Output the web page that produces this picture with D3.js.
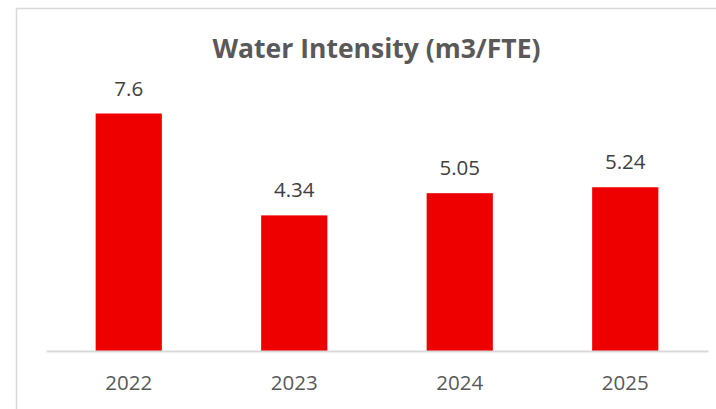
<!DOCTYPE html>
<html><head><meta charset="utf-8">
<script src="https://cdn.jsdelivr.net/npm/d3@7"></script>
<style>html,body{margin:0;padding:0;background:#fff;}svg{display:block;}</style>
</head><body>
<svg id="c" width="716" height="409"></svg>
<script>
const categories = ["2022","2023","2024","2025"];
const values = [7.6, 4.34, 5.05, 5.24];
const labels = ["7.6","4.34","5.05","5.24"];
const title = "Water Intensity (m3/FTE)";

const svg = d3.select("#c");
const plot = {left:46, right:708, top:101, bottom:351};

svg.append("rect").attr("x",16.5).attr("y",8.5).attr("width",720).attr("height",420)
  .attr("fill","#fff").attr("stroke","#d9d9d9").attr("stroke-width",1.5);

const x = d3.scaleBand().domain(categories).range([plot.left, plot.right]).paddingInner(0.6).paddingOuter(0.3);
const y = d3.scaleLinear().domain([0, 8]).range([plot.bottom, plot.top]);

svg.append("g").selectAll("rect").data(values).join("rect")
  .attr("x",(d,i)=>x(categories[i])).attr("width",x.bandwidth())
  .attr("y",d=>y(d)).attr("height",d=>y(0)-y(d)).attr("fill","#EE0000");

const ax = svg.append("g").attr("transform",`translate(0,${plot.bottom})`)
  .call(d3.axisBottom(x).tickSize(0).tickPadding(24));
ax.select(".domain").attr("stroke","#d9d9d9").attr("stroke-width",2);
ax.selectAll("text").attr("font-family","'Open Sans', sans-serif").attr("font-size",20.5).attr("fill","#595959");

svg.append("g").selectAll("text").data(values).join("text")
  .attr("x",(d,i)=>x(categories[i])+x.bandwidth()/2).attr("y",d=>y(d)-18)
  .attr("text-anchor","middle").attr("font-family","'Open Sans', sans-serif").attr("font-size",20.5)
  .attr("fill","#404040").text((d,i)=>labels[i]);

svg.append("text").attr("x",376.5).attr("y",58).attr("text-anchor","middle")
  .attr("font-family","'Open Sans', sans-serif").attr("font-weight","bold").attr("font-size",26.5)
  .attr("fill","#595959").text(title);
</script>
</body></html>
